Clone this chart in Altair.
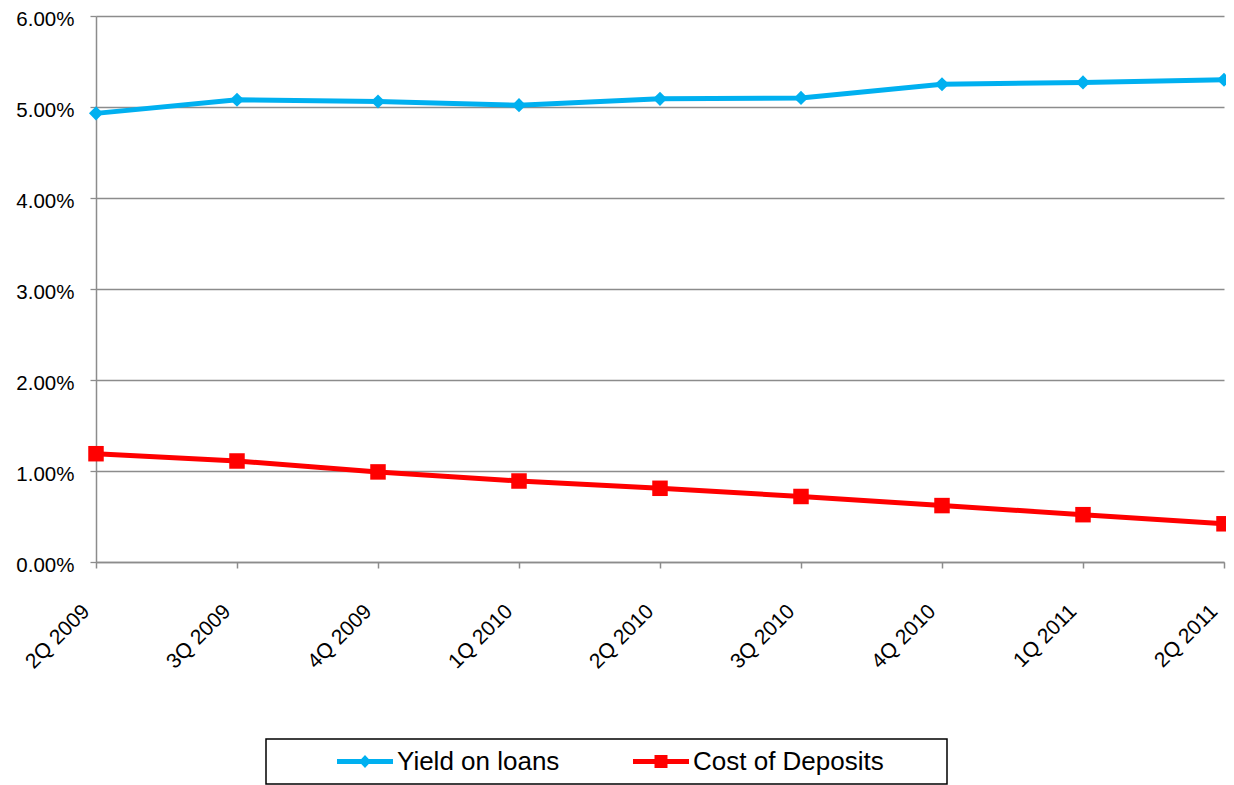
import altair as alt
import pandas as pd

quarters = ["2Q 2009", "3Q 2009", "4Q 2009", "1Q 2010", "2Q 2010",
            "3Q 2010", "4Q 2010", "1Q 2011", "2Q 2011"]
yield_on_loans = [4.93, 5.08, 5.06, 5.02, 5.09, 5.10, 5.25, 5.27, 5.30]
cost_of_deposits = [1.19, 1.11, 0.99, 0.89, 0.81, 0.72, 0.62, 0.52, 0.42]
series_names = ["Yield on loans", "Cost of Deposits"]
series_colors = ["#00B0F0", "#FF0000"]
y_ticks = [0.0, 0.01, 0.02, 0.03, 0.04, 0.05, 0.06]

rows = []
for q, v in zip(quarters, yield_on_loans):
    rows.append({"quarter": q, "series": series_names[0], "value": v / 100})
for q, v in zip(quarters, cost_of_deposits):
    rows.append({"quarter": q, "series": series_names[1], "value": v / 100})
df = pd.DataFrame(rows)

FONT = "Liberation Sans"
GRAY = "#8C8C8C"

x_enc = alt.X(
    "quarter:N", sort=quarters,
    scale=alt.Scale(type="point", padding=0),
    axis=alt.Axis(title=None, labelAngle=315, labelAlign="right", labelBaseline="middle",
                  labelPadding=40, labelOffset=-10, tickSize=6, tickColor=GRAY, tickWidth=1.5,
                  domainColor=GRAY, domainWidth=1.5, grid=False, labelFontSize=21,
                  labelFont=FONT, labelColor="black", labelOverlap=False),
)
y_enc = alt.Y(
    "value:Q",
    scale=alt.Scale(domain=[0, 0.06], nice=False, zero=True),
    axis=alt.Axis(title=None, format=".2%", values=y_ticks, tickSize=6, tickColor=GRAY,
                  tickWidth=1.3, domainColor=GRAY, domainWidth=1.5, gridColor=GRAY,
                  gridWidth=1.3, labelPadding=16, labelFontSize=20.5, labelFont=FONT,
                  labelColor="black", labelOffset=3.5),
)

base = alt.Chart(df)

layers = []
shapes = ["diamond", "square"]
sizes = [200, 240]
for name, col, shp, sz in zip(series_names, series_colors, shapes, sizes):
    sub = base.transform_filter(alt.datum.series == name)
    layers.append(sub.mark_line(color=col, strokeWidth=5).encode(x=x_enc, y=y_enc))
    layers.append(sub.mark_point(shape=shp, filled=True, size=sz, color=col, opacity=1)
                  .encode(x=x_enc, y=y_enc))

# legend glyphs (unit = 6px, origin = symbol anchor): line segment with a marker in the middle
L, R, M, T = 8.083, 17.417, 12.75, 0.417
path_diamond = (f"M{L},{-T}L{M-0.62:.3f},{-T}L{M},-1.1L{M+0.62:.3f},{-T}L{R},{-T}"
                f"L{R},{T}L{M+0.62:.3f},{T}L{M},1.1L{M-0.62:.3f},{T}L{L},{T}Z")
Q = 1.083
path_square = (f"M{L},{-T}L{M-Q:.3f},{-T}L{M-Q:.3f},{-Q}L{M+Q:.3f},{-Q}L{M+Q:.3f},{-T}"
               f"L{R},{-T}L{R},{T}L{M+Q:.3f},{T}L{M+Q:.3f},{Q}L{M-Q:.3f},{Q}"
               f"L{M-Q:.3f},{T}L{L},{T}Z")

legend = alt.Legend(
    orient="none", legendX=170, legendY=723, direction="horizontal",
    title="MM", titleOrient="right", titleFontSize=26, titleFont=FONT, titlePadding=10,
    titleColor="white",
    labelFontSize=26, labelFont=FONT, labelColor="black", labelLimit=600,
    symbolSize=144, labelOffset=95.5, clipHeight=26,
    columnPadding=12, padding=9.5, strokeColor="black", fillColor="white",
    symbolStrokeWidth=0, symbolOpacity=1,
)

legend_layer = base.transform_filter("datum.value > 1").mark_point(
    filled=True, size=144, opacity=1
).encode(
    color=alt.Color("series:N", scale=alt.Scale(domain=series_names, range=series_colors),
                    legend=legend),
    shape=alt.Shape("series:N", scale=alt.Scale(domain=series_names,
                                                range=[path_diamond, path_square]),
                    legend=legend),
)
layers.append(legend_layer)

chart = alt.layer(*layers).properties(
    width=1128, height=546,
    autosize=alt.AutoSizeParams(type="none"),
    padding={"left": 88, "top": 8, "right": 2, "bottom": 223},
    background="white",
).configure_view(stroke=None).configure_legend(strokeWidth=1.5)

chart.save("out.html", embed_options={"renderer": "svg", "actions": False})
